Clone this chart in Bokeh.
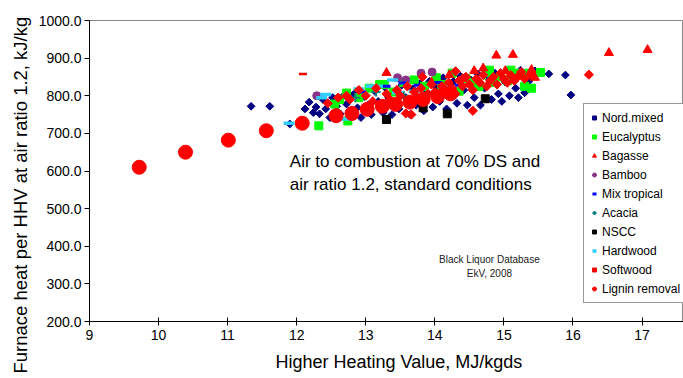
import math
from bokeh.plotting import figure
from bokeh.models import Range1d, FixedTicker, NumeralTickFormatter, Label, Legend, Title
from bokeh.embed import file_html
from bokeh.resources import INLINE

# ---------------- data ----------------
nord_x = [11.34, 11.61, 11.90, 12.12, 12.18, 12.24, 12.28, 12.33, 12.38, 12.42, 12.48, 12.52, 12.58, 12.63,
          12.68, 12.72, 12.78, 12.83, 12.88, 12.93, 12.98, 13.03, 13.08, 13.13, 13.18, 13.25, 13.28, 13.33,
          13.38, 13.43, 13.48, 13.52, 13.58, 13.64, 13.68, 13.73, 13.78, 13.84, 13.88, 13.92, 13.97, 14.02,
          14.07, 14.12, 14.17, 14.22, 14.27, 14.32, 14.37, 14.42, 14.47, 14.52, 14.57, 14.62, 14.66, 14.72,
          14.77, 14.82, 14.87, 14.92, 14.97, 15.02, 15.08, 15.12, 15.17, 15.21, 15.24, 15.30, 15.36, 15.45,
          15.65, 15.89, 15.97]
nord_y = [772, 772, 725, 765, 783, 755, 770, 752, 790, 765, 742, 795, 772, 752,
          800, 778, 745, 805, 768, 742, 798, 775, 750, 812, 785, 755, 822, 795,
          750, 812, 765, 828, 795, 750, 818, 775, 832, 760, 808, 838, 770, 822,
          785, 848, 765, 808, 838, 780, 852, 815, 775, 842, 795, 858, 775, 820,
          848, 790, 860, 805, 785, 836, 800, 856, 820, 795, 868, 808, 838, 866,
          858, 855, 802]

euc_x = [12.32, 12.55, 12.62, 12.72, 12.74, 12.90, 13.05, 13.20, 13.27, 13.40, 13.55, 13.70, 13.85, 14.02,
         14.10, 14.25, 14.35, 14.45, 14.55, 14.64, 14.75, 14.79, 14.83, 14.95, 15.05, 15.10, 15.22, 15.30,
         15.36, 15.40, 15.53]
euc_y = [720, 778, 790, 807, 733, 795, 820, 830, 830, 810, 835, 842, 825, 848,
         830, 860, 812, 845, 835, 825, 855, 868, 835, 850, 840, 868, 860, 825,
         860, 820, 862]

bag_x = [13.30, 13.95, 14.21, 14.40, 14.57, 14.70, 14.89, 15.02, 15.13, 15.40, 15.45, 16.52, 17.08]
bag_y = [861, 836, 855, 845, 866, 873, 907, 866, 909, 869, 848, 914, 922]

bam_x = [12.29, 13.46, 13.58, 13.80, 13.96]
bam_y = [800, 848, 842, 860, 863]

mixt_x = [12.95, 13.30, 13.53, 13.75, 14.05, 14.35, 14.80]
mixt_y = [810, 825, 834, 828, 835, 828, 845]

aca_x = [12.85, 13.15, 13.55, 14.10]
aca_y = [795, 810, 800, 815]

nscc_x = [13.30, 13.83, 14.18, 14.73]
nscc_y = [737, 768, 752, 792]

hard_x = [11.89, 12.36, 12.42, 12.72, 12.90, 13.08, 13.17, 13.39, 13.46, 13.70, 14.20]
hard_y = [727, 795, 803, 738, 818, 825, 825, 842, 808, 812, 822]

soft_x = [12.45, 12.60, 12.72, 12.77, 12.90, 13.00, 13.10, 13.15, 13.30, 13.35, 13.45, 13.50, 13.58, 13.60,
          13.66, 13.70, 13.75, 13.80, 13.82, 13.90, 13.95, 14.00, 14.05, 14.10, 14.15, 14.20, 14.25, 14.30,
          14.30, 14.35, 14.40, 14.45, 14.50, 14.55, 14.55, 14.60, 14.65, 14.70, 14.75, 14.80, 14.85, 14.90,
          14.95, 15.00, 15.05, 15.10, 15.15, 15.20, 15.25, 15.30, 15.38, 16.23]
soft_y = [780, 795, 800, 790, 815, 800, 785, 820, 805, 790, 815, 800, 753, 825,
          750, 810, 795, 820, 850, 805, 830, 810, 795, 825, 815, 835, 820, 805,
          865, 840, 825, 850, 830, 815, 760, 845, 835, 855, 825, 840, 850, 830,
          860, 845, 835, 855, 840, 850, 863, 845, 857, 856]

stray_x = [12.09]
stray_y = [858]

lig_x = [9.72, 10.39, 11.01, 11.56, 12.08, 12.57, 12.80, 13.02, 13.24, 13.43, 13.64, 13.83, 14.04, 14.23]
lig_y = [610, 650, 682, 707, 727, 747, 753, 764, 772, 777, 783, 790, 798, 805]

x_ticks = [9, 10, 11, 12, 13, 14, 15, 16, 17]
y_ticks = [200, 300, 400, 500, 600, 700, 800, 900, 1000]

FONT = "Liberation Sans"

p = figure(width=683, height=378, output_backend="svg", toolbar_location=None,
           x_range=Range1d(9, 17.6), y_range=Range1d(200, 1000),
           min_border_left=89, min_border_right=0, min_border_top=20, min_border_bottom=55)
p.background_fill_color = "white"
p.border_fill_color = "white"
p.outline_line_color = "#888888"
p.grid.visible = False

p.xaxis.ticker = FixedTicker(ticks=x_ticks)
p.yaxis.ticker = FixedTicker(ticks=y_ticks)
p.yaxis.formatter = NumeralTickFormatter(format="0.0")
for ax in (p.xaxis, p.yaxis):
    ax.axis_line_color = "black"
    ax.major_tick_line_color = "black"
    ax.minor_tick_line_color = None
    ax.major_label_text_font = FONT
    ax.major_label_text_font_size = "14px"
    ax.major_label_text_color = "black"
p.xaxis.major_tick_in = 4
p.xaxis.major_tick_out = 4
p.xaxis.major_label_standoff = 4
p.yaxis.major_tick_in = 0
p.yaxis.major_tick_out = 5
p.yaxis.major_label_standoff = 3

items = []
r = p.scatter(nord_x, nord_y, marker="square", angle=math.pi / 4, size=5.5,
              fill_color="#000080", line_color="#000080")
items.append(("Nord.mixed", [r]))
r = p.scatter(euc_x, euc_y, marker="square", size=8, fill_color="#00FF00", line_color="#00FF00")
items.append(("Eucalyptus", [r]))
r = p.scatter(bag_x, bag_y, marker="triangle", size=9, fill_color="#FF0000", line_color="#FF0000")
items.append(("Bagasse", [r]))
r = p.scatter(bam_x, bam_y, marker="circle", size=8, fill_color="#883388", line_color="#883388")
items.append(("Bamboo", [r]))
r = p.scatter(mixt_x, mixt_y, marker="dash", size=8, line_width=3, line_color="#0000FF")
items.append(("Mix tropical", [r]))
r = p.scatter(aca_x, aca_y, marker="cross", size=9, line_width=2, line_color="#008080")
items.append(("Acacia", [r]))
r = p.scatter(nscc_x, nscc_y, marker="square", size=8, fill_color="black", line_color="black")
items.append(("NSCC", [r]))
r = p.scatter(hard_x, hard_y, marker="dash", size=11, line_width=3.5, line_color="#33CCFF")
items.append(("Hardwood", [r]))
r = p.scatter(soft_x, soft_y, marker="square", angle=math.pi / 4, size=6.5,
              fill_color="#FF0000", line_color="#FF0000")
items.append(("Softwood", [r]))
p.scatter(stray_x, stray_y, marker="dash", size=8, line_width=2.5, line_color="#FF0000")
r = p.scatter(lig_x, lig_y, marker="circle", size=14, fill_color="#FF0000", line_color="#FF0000")
items.append(("Lignin removal", [r]))

legend = Legend(items=items, location=(494, 18), orientation="vertical")
legend.label_text_font = FONT
legend.label_text_font_size = "12px"
legend.label_text_color = "black"
legend.label_height = 17
legend.glyph_height = 17
legend.glyph_width = 10
legend.label_standoff = 3
legend.spacing = 2
legend.padding = 5
legend.margin = 0
legend.border_line_color = "#333333"
legend.background_fill_color = "white"
legend.background_fill_alpha = 1
p.add_layout(legend, "center")

# texts
p.add_layout(Label(x=11.90, y=624, text="Air to combustion at 70% DS and", text_font=FONT,
                   text_font_size="17px", text_align="left", text_baseline="middle", text_color="black"))
p.add_layout(Label(x=11.90, y=563, text="air ratio 1.2, standard conditions", text_font=FONT,
                   text_font_size="17px", text_align="left", text_baseline="middle", text_color="black"))
p.add_layout(Label(x=14.79, y=365, text="Black Liquor Database", text_font=FONT,
                   text_font_size="10px", text_align="center", text_baseline="middle", text_color="#222222"))
p.add_layout(Label(x=14.79, y=328, text="EkV, 2008", text_font=FONT,
                   text_font_size="10px", text_align="center", text_baseline="middle", text_color="#222222"))

# axis titles as side titles
xt = Title(text="Higher Heating Value, MJ/kgds", align="left", offset=186, standoff=14,
           text_font=FONT, text_font_size="18px", text_font_style="normal", text_color="black")
p.add_layout(xt, "below")
yt = Title(text="Furnace heat per HHV at air ratio 1.2, kJ/kg", align="left", offset=-52, standoff=10,
           text_font=FONT, text_font_size="18.5px", text_font_style="normal", text_color="black")
p.add_layout(yt, "left")

open("out.html", "w").write(file_html(p, INLINE))
